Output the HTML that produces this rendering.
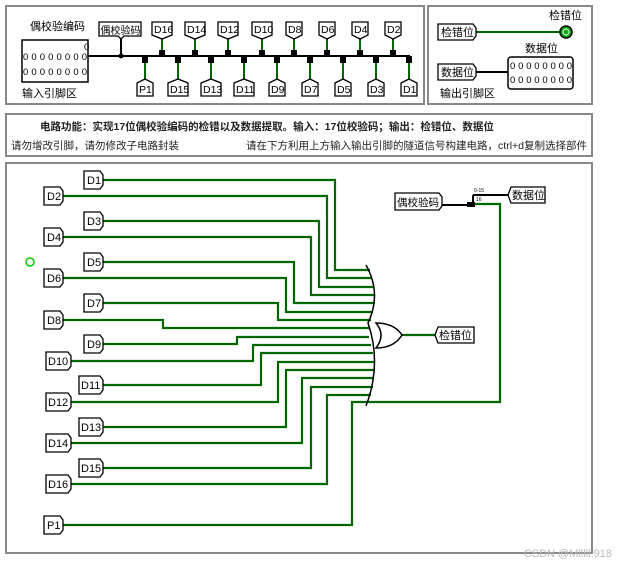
<!DOCTYPE html>
<html><head><meta charset="utf-8"><style>
html,body{margin:0;padding:0;background:#fff;}
svg{display:block;font-family:"Liberation Sans","Noto Sans CJK SC",sans-serif;}
</style></head><body>
<svg width="627" height="568" viewBox="0 0 627 568" xmlns="http://www.w3.org/2000/svg">
<rect x="6" y="6" width="418" height="98" fill="none" stroke="#888" stroke-width="2"/>
<rect x="428" y="6" width="164" height="98" fill="none" stroke="#888" stroke-width="2"/>
<rect x="6" y="114" width="586" height="42" fill="none" stroke="#888" stroke-width="2"/>
<rect x="6" y="163" width="586" height="390" fill="none" stroke="#888" stroke-width="2"/>

<text x="30" y="30" font-size="11">偶校验编码</text>
<rect x="22" y="40" width="66" height="42" fill="#fff" stroke="#000" stroke-width="1.5"/>
<text x="84" y="50" font-size="9.5">0</text>
<text x="23" y="60" font-size="9.5" textLength="64">00000000</text>
<text x="23" y="75" font-size="9.5" textLength="64">00000000</text>
<text x="22" y="97" font-size="11">输入引脚区</text>
<line x1="88" y1="56" x2="410" y2="56" stroke="#000" stroke-width="2"/>
<line x1="121" y1="38" x2="121" y2="56" stroke="#000" stroke-width="2"/>
<circle cx="121" cy="56" r="2.5" fill="#000"/>
<path d="M99,22 H141 V36 H124 L121,39 L118,36 H99 Z" fill="#fff" stroke="#000" stroke-width="1.3"/>
<text x="100.5" y="34" font-size="10">偶校验码</text>
<g stroke-width="1.3" font-size="10">
<g stroke="#060" stroke-width="2">
<line x1="162" y1="38" x2="162" y2="52"/><line x1="195" y1="38" x2="195" y2="52"/><line x1="228" y1="38" x2="228" y2="52"/><line x1="262" y1="38" x2="262" y2="52"/><line x1="294" y1="38" x2="294" y2="52"/><line x1="327" y1="38" x2="327" y2="52"/><line x1="360" y1="38" x2="360" y2="52"/><line x1="393" y1="38" x2="393" y2="52"/>
<line x1="145" y1="62" x2="145" y2="80"/><line x1="178" y1="62" x2="178" y2="80"/><line x1="211" y1="62" x2="211" y2="80"/><line x1="244" y1="62" x2="244" y2="80"/><line x1="277" y1="62" x2="277" y2="80"/><line x1="310" y1="62" x2="310" y2="80"/><line x1="343" y1="62" x2="343" y2="80"/><line x1="376" y1="62" x2="376" y2="80"/><line x1="409" y1="62" x2="409" y2="80"/>
</g>
<g fill="#000">
<rect x="159" y="50" width="6" height="6"/><rect x="192" y="50" width="6" height="6"/><rect x="225" y="50" width="6" height="6"/><rect x="259" y="50" width="6" height="6"/><rect x="291" y="50" width="6" height="6"/><rect x="324" y="50" width="6" height="6"/><rect x="357" y="50" width="6" height="6"/><rect x="390" y="50" width="6" height="6"/>
<rect x="142" y="56" width="6" height="7"/><rect x="175" y="56" width="6" height="7"/><rect x="208" y="56" width="6" height="7"/><rect x="241" y="56" width="6" height="7"/><rect x="274" y="56" width="6" height="7"/><rect x="307" y="56" width="6" height="7"/><rect x="340" y="56" width="6" height="7"/><rect x="373" y="56" width="6" height="7"/><rect x="406" y="56" width="6" height="7"/>
</g>
<g fill="#fff" stroke="#000">
<path d="M152,22 H172 V35 L162,39 L152,35 Z"/><path d="M185,22 H205 V35 L195,39 L185,35 Z"/><path d="M218,22 H238 V35 L228,39 L218,35 Z"/><path d="M252,22 H272 V35 L262,39 L252,35 Z"/><path d="M286,22 H302 V35 L294,39 L286,35 Z"/><path d="M319,22 H335 V35 L327,39 L319,35 Z"/><path d="M352,22 H368 V35 L360,39 L352,35 Z"/><path d="M385,22 H401 V35 L393,39 L385,35 Z"/>
<path d="M137,83 L145,79 L153,83 V96 H137 Z"/><path d="M168,83 L178,79 L188,83 V96 H168 Z"/><path d="M201,83 L211,79 L221,83 V96 H201 Z"/><path d="M234,83 L244,79 L254,83 V96 H234 Z"/><path d="M269,83 L277,79 L285,83 V96 H269 Z"/><path d="M302,83 L310,79 L318,83 V96 H302 Z"/><path d="M335,83 L343,79 L351,83 V96 H335 Z"/><path d="M368,83 L376,79 L384,83 V96 H368 Z"/><path d="M401,83 L409,79 L417,83 V96 H401 Z"/>
</g>
<g fill="#000" stroke="none" font-size="10.5">
<text x="154" y="33">D16</text><text x="187" y="33">D14</text><text x="220" y="33">D12</text><text x="254" y="33">D10</text><text x="288" y="33">D8</text><text x="321" y="33">D6</text><text x="354" y="33">D4</text><text x="387" y="33">D2</text>
<text x="139" y="93">P1</text><text x="170" y="93">D15</text><text x="203" y="93">D13</text><text x="236" y="93">D11</text><text x="271" y="93">D9</text><text x="304" y="93">D7</text><text x="337" y="93">D5</text><text x="370" y="93">D3</text><text x="403" y="93">D1</text>
</g>
</g>

<text x="549" y="19" font-size="11">检错位</text>
<line x1="476" y1="32" x2="561" y2="32" stroke="#060" stroke-width="2"/>
<circle cx="566" cy="32" r="6" fill="#0a0" stroke="#000" stroke-width="1.5"/>
<circle cx="566" cy="32" r="3" fill="none" stroke="#fff" stroke-width="1"/>
<path d="M438,24 H473 L476,28 V36 L473,40 H438 Z" fill="#fff" stroke="#000" stroke-width="1.3"/>
<text x="441" y="36" font-size="11">检错位</text>
<text x="525" y="52" font-size="11">数据位</text>
<line x1="476" y1="72" x2="508" y2="72" stroke="#000" stroke-width="2"/>
<rect x="508" y="57" width="65" height="32" rx="3" fill="#fff" stroke="#000" stroke-width="1.5"/>
<text x="510" y="69" font-size="9.5" textLength="62">00000000</text>
<text x="510" y="83" font-size="9.5" textLength="62">00000000</text>
<path d="M438,64 H473 L476,68 V76 L473,80 H438 Z" fill="#fff" stroke="#000" stroke-width="1.3"/>
<text x="441" y="76" font-size="11">数据位</text>
<text x="440" y="97" font-size="11">输出引脚区</text>

<text x="40" y="130" font-size="10.5" font-weight="bold" fill="#222">电路功能：实现17位偶校验编码的检错以及数据提取。输入：17位校验码；输出：检错位、数据位</text>
<text x="11" y="149" font-size="10.5" fill="#222">请勿增改引脚，请勿修改子电路封装</text>
<text x="587" y="149" font-size="10.5" fill="#222" text-anchor="end">请在下方利用上方输入输出引脚的隧道信号构建电路，ctrl+d复制选择部件</text>

<g fill="none" stroke="#060" stroke-width="2.2">
<polyline points="103,180 335,180 335,270 370,270"/>
<polyline points="63,196 327,196 327,278 371,278"/>
<polyline points="103,221 319,221 319,287 373,287"/>
<polyline points="63,237 311,237 311,295 374,295"/>
<polyline points="103,262 294,262 294,303 374,303"/>
<polyline points="63,278 286,278 286,312 373,312"/>
<polyline points="103,303 278,303 278,320 371,320"/>
<polyline points="63,320 163,320 163,328 369,328"/>
<polyline points="103,344 237,344 237,337 369,337"/>
<polyline points="71,361 253,361 253,345 371,345"/>
<polyline points="103,385 261,385 261,353 373,353"/>
<polyline points="71,402 278,402 278,362 374,362"/>
<polyline points="103,427 286,427 286,370 374,370"/>
<polyline points="71,443 302,443 302,378 374,378"/>
<polyline points="103,468 311,468 311,387 373,387"/>
<polyline points="71,484 327,484 327,395 371,395"/>
<polyline points="63,525 352,525 352,402 500,402 500,204 475,204"/>
<line x1="401" y1="335" x2="435" y2="335"/>
</g>
<path d="M366,265 Q382,294 368,323 Q382,364 366,406" fill="none" stroke="#000" stroke-width="1.5"/>
<path d="M376,323 Q394,323 402,335 Q394,348 376,348 Q386,335 376,323 Z" fill="#fff" stroke="#000" stroke-width="1.5"/>
<path d="M435,335 L438,327 H474 V343 H438 Z" fill="#fff" stroke="#000" stroke-width="1.3"/>
<text x="439" y="339" font-size="11">检错位</text>

<line x1="442" y1="205" x2="470" y2="205" stroke="#000" stroke-width="2"/>
<rect x="467" y="202" width="8" height="5" fill="#000"/>
<line x1="473" y1="195" x2="473" y2="205" stroke="#000" stroke-width="2"/>
<line x1="473" y1="195" x2="508" y2="195" stroke="#000" stroke-width="2"/>
<text x="474" y="192" font-size="5">0-15</text>
<text x="476" y="201" font-size="5">16</text>
<path d="M442,197 L439,193 H395 V210 H439 L442,206 Z" fill="#fff" stroke="#000" stroke-width="1.3"/>
<text x="397" y="206" font-size="10.5">偶校验码</text>
<path d="M508,195 L511,187 H545 V203 H511 Z" fill="#fff" stroke="#000" stroke-width="1.3"/>
<text x="512" y="199" font-size="11">数据位</text>

<g fill="#fff" stroke="#000" stroke-width="1.3">
<path d="M84,171 H100 L103,175 V185 L100,189 H84 Z"/>
<path d="M44,187 H60 L63,191 V201 L60,205 H44 Z"/>
<path d="M84,212 H100 L103,216 V226 L100,230 H84 Z"/>
<path d="M44,228 H60 L63,232 V242 L60,246 H44 Z"/>
<path d="M84,253 H100 L103,257 V267 L100,271 H84 Z"/>
<path d="M44,269 H60 L63,273 V283 L60,287 H44 Z"/>
<path d="M84,294 H100 L103,298 V308 L100,312 H84 Z"/>
<path d="M44,311 H60 L63,315 V325 L60,329 H44 Z"/>
<path d="M84,335 H100 L103,339 V349 L100,353 H84 Z"/>
<path d="M46,352 H68 L71,356 V366 L68,370 H46 Z"/>
<path d="M79,376 H100 L103,380 V390 L100,394 H79 Z"/>
<path d="M46,393 H68 L71,397 V407 L68,411 H46 Z"/>
<path d="M79,418 H100 L103,422 V432 L100,436 H79 Z"/>
<path d="M46,434 H68 L71,438 V448 L68,452 H46 Z"/>
<path d="M79,459 H100 L103,463 V473 L100,477 H79 Z"/>
<path d="M46,475 H68 L71,479 V489 L68,493 H46 Z"/>
<path d="M44,516 H60 L63,520 V530 L60,534 H44 Z"/>
</g>
<g font-size="11">
<text x="87" y="184">D1</text><text x="47" y="200">D2</text><text x="87" y="225">D3</text><text x="47" y="241">D4</text>
<text x="87" y="266">D5</text><text x="47" y="282">D6</text><text x="87" y="307">D7</text><text x="47" y="324">D8</text>
<text x="87" y="348">D9</text><text x="48" y="365">D10</text><text x="81" y="389">D11</text><text x="48" y="406">D12</text>
<text x="81" y="431">D13</text><text x="48" y="447">D14</text><text x="81" y="472">D15</text><text x="48" y="488">D16</text>
<text x="47" y="529">P1</text>
</g>
<circle cx="30" cy="262" r="4" fill="none" stroke="#0c0" stroke-width="1.5"/>
<text x="612" y="557" font-size="11" fill="#bbb" text-anchor="end">CSDN @Mlllll.918</text>
</svg>
</body></html>
